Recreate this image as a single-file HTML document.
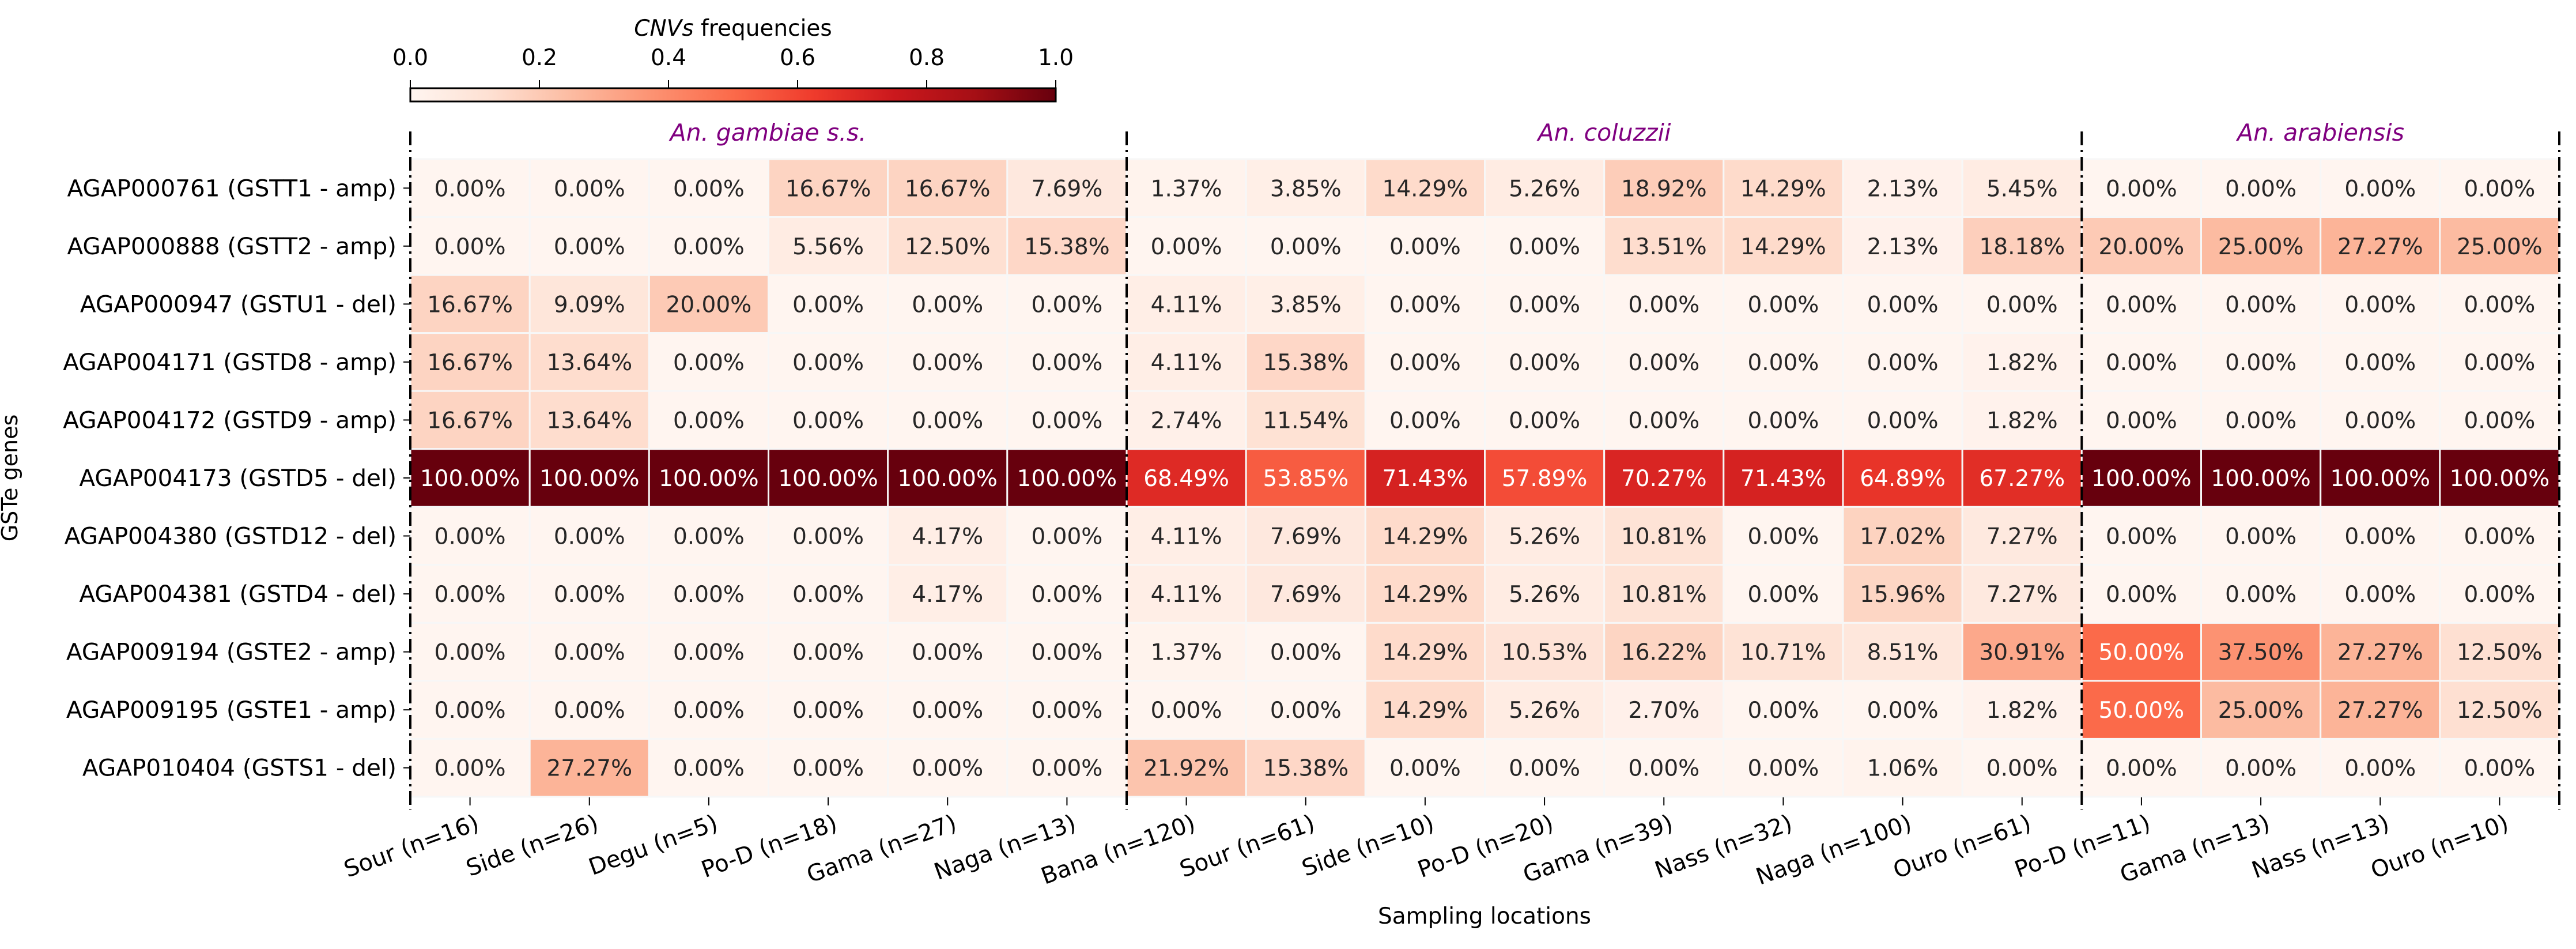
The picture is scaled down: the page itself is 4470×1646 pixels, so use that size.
<!DOCTYPE html>
<html><head><meta charset="utf-8"><style>
body{margin:0;background:#fff;}
svg text{font-family:"DejaVu Sans","Liberation Sans",sans-serif;}
</style></head><body>
<svg id="s" width="4470" height="1641" xmlns="http://www.w3.org/2000/svg">
<defs><linearGradient id="g" x1="0" x2="1" y1="0" y2="0">
<stop offset="0" stop-color="#fff5f0"/><stop offset="0.125" stop-color="#fee0d2"/><stop offset="0.25" stop-color="#fcbba1"/><stop offset="0.375" stop-color="#fc9272"/><stop offset="0.5" stop-color="#fb6a4a"/><stop offset="0.625" stop-color="#ef3b2c"/><stop offset="0.75" stop-color="#cb181d"/><stop offset="0.875" stop-color="#a50f15"/><stop offset="1" stop-color="#67000d"/>
</linearGradient></defs>
<text x="1272" y="62" font-size="39" text-anchor="middle"><tspan font-style="italic">CNVs</tspan> frequencies</text>
<g font-size="39" text-anchor="middle">
<text x="712" y="113">0.0</text><text x="936" y="113">0.2</text><text x="1160" y="113">0.4</text><text x="1384" y="113">0.6</text><text x="1608" y="113">0.8</text><text x="1832" y="113">1.0</text>
</g>
<g stroke="#000" stroke-width="2">
<line x1="712" y1="139" x2="712" y2="153"/><line x1="936" y1="139" x2="936" y2="153"/><line x1="1160" y1="139" x2="1160" y2="153"/><line x1="1384" y1="139" x2="1384" y2="153"/><line x1="1608" y1="139" x2="1608" y2="153"/><line x1="1832" y1="139" x2="1832" y2="153"/>
</g>
<rect x="712" y="153" width="1120" height="23" fill="url(#g)" stroke="#000" stroke-width="3"/>
<g font-size="41" font-style="italic" fill="#800080" text-anchor="middle">
<text x="1333" y="244">An. gambiae s.s.</text>
<text x="2784" y="244">An. coluzzii</text>
<text x="4027" y="244">An. arabiensis</text>
</g>
<g id="cells"></g>
<text transform="translate(30,829) rotate(-90)" font-size="38" text-anchor="middle">GSTe genes</text>
<text x="2576" y="1602" font-size="39" text-anchor="middle">Sampling locations</text>
</svg>
<script>
var D=[
[0,0,0,16.67,16.67,7.69,1.37,3.85,14.29,5.26,18.92,14.29,2.13,5.45,0,0,0,0],
[0,0,0,5.56,12.50,15.38,0,0,0,0,13.51,14.29,2.13,18.18,20,25,27.27,25],
[16.67,9.09,20,0,0,0,4.11,3.85,0,0,0,0,0,0,0,0,0,0],
[16.67,13.64,0,0,0,0,4.11,15.38,0,0,0,0,0,1.82,0,0,0,0],
[16.67,13.64,0,0,0,0,2.74,11.54,0,0,0,0,0,1.82,0,0,0,0],
[100,100,100,100,100,100,68.49,53.85,71.43,57.89,70.27,71.43,64.89,67.27,100,100,100,100],
[0,0,0,0,4.17,0,4.11,7.69,14.29,5.26,10.81,0,17.02,7.27,0,0,0,0],
[0,0,0,0,4.17,0,4.11,7.69,14.29,5.26,10.81,0,15.96,7.27,0,0,0,0],
[0,0,0,0,0,0,1.37,0,14.29,10.53,16.22,10.71,8.51,30.91,50,37.5,27.27,12.5],
[0,0,0,0,0,0,0,0,14.29,5.26,2.70,0,0,1.82,50,25,27.27,12.5],
[0,27.27,0,0,0,0,21.92,15.38,0,0,0,0,1.06,0,0,0,0,0]];
var R=["AGAP000761 (GSTT1 - amp)","AGAP000888 (GSTT2 - amp)","AGAP000947 (GSTU1 - del)","AGAP004171 (GSTD8 - amp)","AGAP004172 (GSTD9 - amp)","AGAP004173 (GSTD5 - del)","AGAP004380 (GSTD12 - del)","AGAP004381 (GSTD4 - del)","AGAP009194 (GSTE2 - amp)","AGAP009195 (GSTE1 - amp)","AGAP010404 (GSTS1 - del)"];
var C=["Sour (n=16)","Side (n=26)","Degu (n=5)","Po-D (n=18)","Gama (n=27)","Naga (n=13)","Bana (n=120)","Sour (n=61)","Side (n=10)","Po-D (n=20)","Gama (n=39)","Nass (n=32)","Naga (n=100)","Ouro (n=61)","Po-D (n=11)","Gama (n=13)","Nass (n=13)","Ouro (n=10)"];
var st=[[255,245,240],[254,224,210],[252,187,161],[252,146,114],[251,106,74],[239,59,44],[203,24,29],[165,15,21],[103,0,13]];
function col(v){var t=v*8,i=Math.min(7,Math.floor(t)),f=t-i,a=st[i],b=st[i+1];var c=[0,1,2].map(function(k){return a[k]+(b[k]-a[k])*f;});return c;}
function lum(c){var r=c.map(function(x){x/=255;return x<=0.03928?x/12.92:Math.pow((x+0.055)/1.055,2.4);});return 0.2126*r[0]+0.7152*r[1]+0.0722*r[2];}
var X0=712,X1=4441,Y0=276,Y1=1382,cw=(X1-X0)/18,rh=(Y1-Y0)/11,h="";
for(var r=0;r<11;r++){for(var c=0;c<18;c++){var v=D[r][c]/100,cc=col(v);var x=X0+c*cw,y=Y0+r*rh;
h+='<rect x="'+x.toFixed(1)+'" y="'+y.toFixed(1)+'" width="'+cw.toFixed(1)+'" height="'+rh.toFixed(1)+'" fill="rgb('+cc.map(Math.round).join(",")+')" stroke="#f7f7f7" stroke-width="3"/>';
h+='<text x="'+(x+cw/2).toFixed(1)+'" y="'+(y+rh/2+14).toFixed(1)+'" font-size="39" text-anchor="middle" fill="'+(lum(cc)>0.408?"#262626":"#ffffff")+'">'+D[r][c].toFixed(2)+'%</text>';}
var yc=Y0+(r+0.5)*rh;h+='<line x1="700" y1="'+yc+'" x2="712" y2="'+yc+'" stroke="#000" stroke-width="2"/><text x="688" y="'+(yc+14)+'" font-size="40.5" text-anchor="end">'+R[r]+'</text>';}
for(var c=0;c<18;c++){var xc=X0+(c+0.5)*cw;h+='<line x1="'+xc+'" y1="1383" x2="'+xc+'" y2="1397" stroke="#000" stroke-width="2"/><text transform="translate('+(xc+8)+',1410) rotate(-20)" font-size="40" text-anchor="end" dy="0.75em">'+C[c]+'</text>';}
[X0,X0+6*cw,X0+14*cw,X1].forEach(function(x){h+='<line x1="'+x+'" y1="228" x2="'+x+'" y2="1405" stroke="#000" stroke-width="4" stroke-dasharray="24,8,4,8"/>';});
document.getElementById("cells").innerHTML=h;
</script>
</body></html>
